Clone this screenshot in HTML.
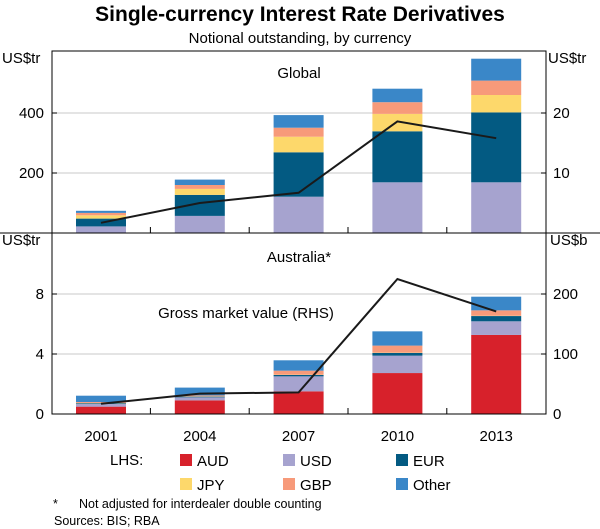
<!DOCTYPE html>
<html><head><meta charset="utf-8">
<style>
body{margin:0;background:#fff;}
svg{display:block;font-family:"Liberation Sans",Arial,sans-serif;}
</style></head>
<body>
<svg id="chart" width="600" height="529" viewBox="0 0 600 529">
<text x="300" y="21" text-anchor="middle" font-size="21" font-weight="bold" fill="#000">Single-currency Interest Rate Derivatives</text>
<text x="300" y="43" text-anchor="middle" font-size="15" fill="#000">Notional outstanding, by currency</text>
<g id="plot"></g>
<text x="110" y="465" font-size="15">LHS:</text>
<g id="legend"></g>
<text x="53" y="508" font-size="12.5">*</text>
<text x="79" y="508" font-size="12.5">Not adjusted for interdealer double counting</text>
<text x="54" y="525" font-size="12.5">Sources: BIS; RBA</text>
</svg>
<script>
const years=["2001","2004","2007","2010","2013"];
const series=["AUD","USD","EUR","JPY","GBP","Other"];
const colors=["#d7212b","#a6a3cf","#035a82","#fdd86b","#f79a7a","#3a87c8"];
// Global (US$tr)
const gAUD=[0,0,0,0,0];
const gUSD=[22,57,121,169,169];
const gEUR=[26,70,148,170,233];
const gJPY=[11,20,52,58,58];
const gGBP=[8,13,30,39,48];
const gOther=[7,18,42,45,73];
const gLine=[1.7,5,6.7,18.6,15.8]; // US$tr RHS
// Australia (US$tr)
const aAUD=[0.49,0.91,1.51,2.73,5.27];
const aUSD=[0.18,0.2,1.0,1.16,0.91];
const aEUR=[0.05,0.05,0.09,0.18,0.35];
const aJPY=[0.02,0.02,0.02,0.02,0.02];
const aGBP=[0.06,0.06,0.27,0.47,0.36];
const aOther=[0.42,0.52,0.69,0.95,0.91];
const aLine=[17,34,36,225,171]; // US$b RHS
const gTicksL=[200,400],gTicksR=[10,20];
const aTicksL=[0,4,8],aTicksR=[0,100,200];

const NS="http://www.w3.org/2000/svg";
const plot=document.getElementById('plot');
function mk(tag,attrs,parent){const e=document.createElementNS(NS,tag);for(const k in attrs)e.setAttribute(k,attrs[k]);(parent||plot).appendChild(e);return e;}
const X0=52,X1=546;
function xC(i){return 101+i*98.8;}
const BW=50;
function gy(v){return 233-v*0.3;}
function gyR(v){return 233-v*6;}
function ay(v){return 414-v*15;}
function ayR(v){return 414-v*0.6;}

gTicksL.forEach(t=>{const l=mk('line',{x1:X0,x2:X1,y1:gy(t),y2:gy(t),stroke:'#c8c8c8','stroke-width':1});
});
aTicksL.filter(t=>t>0).forEach(t=>{const l=mk('line',{x1:X0,x2:X1,y1:ay(t),y2:ay(t),stroke:'#c8c8c8','stroke-width':1});
});

function bars(data,yf,name){
  for(let i=0;i<years.length;i++){let cum=0;
    data.forEach((arr,s)=>{const v=arr[i];if(v<=0)return;const y1=yf(cum),y2=yf(cum+v);cum+=v;
      const r=mk('rect',{x:xC(i)-BW/2,y:y2,width:BW,height:y1-y2,fill:colors[s]});
      
      });
  }
}
bars([gAUD,gUSD,gEUR,gJPY,gGBP,gOther],gy,'global');
bars([aAUD,aUSD,aEUR,aJPY,aGBP,aOther],ay,'australia');
function line(vals,yf,name){const p=mk('polyline',{points:vals.map((v,i)=>xC(i)+','+yf(v)).join(' '),fill:'none',stroke:'#1a1a1a','stroke-width':2});
}
line(gLine,gyR,'global-line');
line(aLine,ayR,'australia-gross-market-value-line');

const fr=mk('rect',{x:X0,y:51,width:X1-X0,height:363,fill:'none',stroke:'#000','stroke-width':1});

const dv=mk('line',{x1:0,x2:600,y1:233,y2:233,stroke:'#000','stroke-width':1});

for(let i=0;i<years.length-1;i++){const x=(xC(i)+xC(i+1))/2;
 const t=mk('line',{x1:x,x2:x,y1:414,y2:408,stroke:'#000'});
 const t2=mk('line',{x1:x,x2:x,y1:233,y2:227,stroke:'#000'});}
function txt(s,x,y,anchor,name,size){const t=mk('text',{x:x,y:y,'text-anchor':anchor,'font-size':size||15,fill:'#000'});t.textContent=s;
return t;}
gTicksL.forEach(t=>{txt(t,44,gy(t)+5,'end','global-y-tick-label');mk('line',{x1:X0,x2:X0+5,y1:gy(t),y2:gy(t),stroke:'#000'});});
gTicksR.forEach(t=>{txt(t,553,gyR(t)+5,'start','global-y2-tick-label');mk('line',{x1:X1-5,x2:X1,y1:gyR(t),y2:gyR(t),stroke:'#000'});});
aTicksL.forEach(t=>{txt(t,44,ay(t)+5,'end','australia-y-tick-label');mk('line',{x1:X0,x2:X0+5,y1:ay(t),y2:ay(t),stroke:'#000'});});
aTicksR.forEach(t=>{txt(t,553,ayR(t)+5,'start','australia-y2-tick-label');mk('line',{x1:X1-5,x2:X1,y1:ayR(t),y2:ayR(t),stroke:'#000'});});
txt('US$tr',2,63,'start','global-y-axis-unit');
txt('US$tr',548,63,'start','global-y2-axis-unit');
txt('US$tr',2,245,'start','australia-y-axis-unit');
txt('US$b',550,245,'start','australia-y2-axis-unit');
txt('Global',299,78,'middle','global-panel-title');
txt('Australia*',299,262,'middle','australia-panel-title');
txt('Gross market value (RHS)',246,318,'middle','line-label');
years.forEach((y,i)=>txt(y,xC(i),441,'middle','x-tick-label'));

const lg=document.getElementById('legend');
const pos=[[180,466],[283,466],[396,466],[180,490],[283,490],[396,490]];
series.forEach((s,i)=>{const [x,y]=pos[i];
 const r=mk('rect',{x:x,y:y-12,width:12,height:12,fill:colors[i]},lg);
 
 const t=mk('text',{x:x+17,y:y,'font-size':15},lg);t.textContent=s;
 });
</script>
</body></html>
